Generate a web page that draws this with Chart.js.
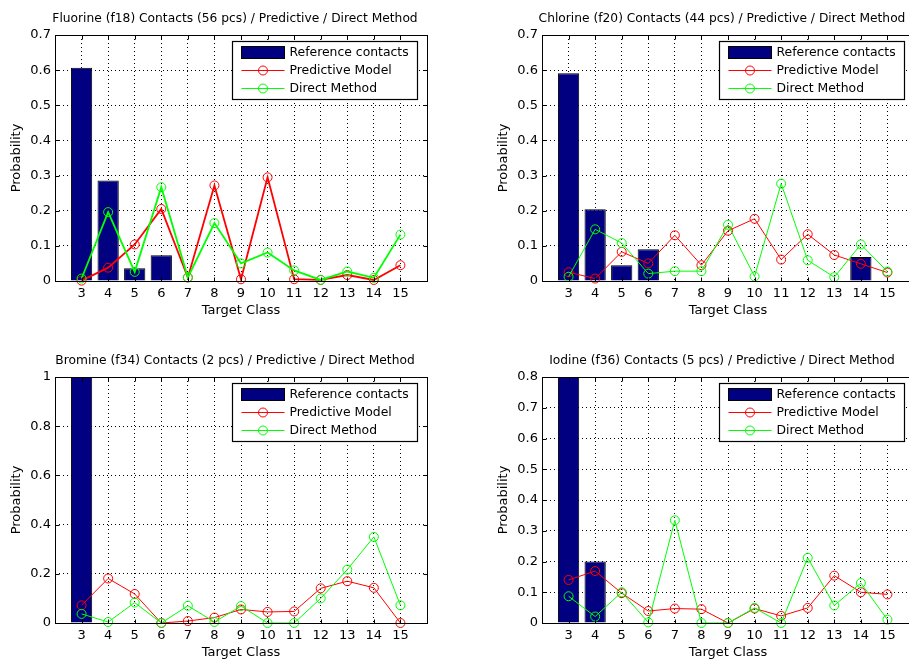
<html>
<head>
<script src="https://cdn.jsdelivr.net/npm/chart.js@4.4.0/dist/chart.umd.min.js"></script>
<style>
  body { margin: 0; width: 909px; height: 659px; overflow: hidden; background: #fff; position: relative; }
  canvas { position: absolute; }
</style>
</head>
<body>
<canvas id="c1" width="440" height="330" style="left:0px;top:0px"></canvas>
<canvas id="c2" width="440" height="330" style="left:487px;top:0px"></canvas>
<canvas id="c3" width="440" height="330" style="left:0px;top:342px"></canvas>
<canvas id="c4" width="440" height="330" style="left:487px;top:342px"></canvas>

<script>
// target classes on the x axis
var classes = [3, 4, 5, 6, 7, 8, 9, 10, 11, 12, 13, 14, 15];
var seriesNames = ['Reference contacts', 'Predictive Model', 'Direct Method'];

// Fluorine (f18)
var fluorineRef    = [0.607, 0.286, 0.036, 0.073, 0, 0, 0, 0, 0, 0, 0, 0, 0];
var fluorinePred   = [0.001, 0.038, 0.104, 0.205, 0.010, 0.272, 0.005, 0.295, 0.005, 0.003, 0.017, 0.003, 0.045];
var fluorineDirect = [0.007, 0.196, 0.026, 0.267, 0.010, 0.165, 0.050, 0.081, 0.030, 0.003, 0.027, 0.009, 0.132];

// Chlorine (f20)
var chlorineRef    = [0.591, 0.204, 0.045, 0.090, 0, 0, 0, 0, 0, 0, 0, 0.068, 0];
var chlorinePred   = [0.025, 0.007, 0.083, 0.050, 0.130, 0.045, 0.143, 0.177, 0.061, 0.133, 0.074, 0.049, 0.024];
var chlorineDirect = [0.012, 0.147, 0.108, 0.021, 0.028, 0.028, 0.160, 0.013, 0.277, 0.059, 0.011, 0.104, 0.027];

// Bromine (f34)
var bromineRef    = [1.0, 0, 0, 0, 0, 0, 0, 0, 0, 0, 0, 0, 0];
var brominePred   = [0.072, 0.181, 0.118, 0.000, 0.008, 0.022, 0.055, 0.045, 0.047, 0.141, 0.170, 0.143, 0.000];
var bromineDirect = [0.037, 0.004, 0.083, 0.000, 0.070, 0.004, 0.069, 0.000, 0.000, 0.100, 0.217, 0.350, 0.072];

// Iodine (f36)
var iodineRef    = [0.8, 0.2, 0, 0, 0, 0, 0, 0, 0, 0, 0, 0, 0];
var iodinePred   = [0.140, 0.169, 0.097, 0.039, 0.047, 0.045, 0.000, 0.047, 0.023, 0.049, 0.154, 0.100, 0.093];
var iodineDirect = [0.087, 0.021, 0.100, 0.002, 0.334, 0.000, 0.000, 0.049, 0.000, 0.212, 0.057, 0.130, 0.011];

var FONT = 'DejaVu Sans';

function pts(vals) {
  return vals.map((v, i) => ({x: classes[i], y: v}));
}

// matlab style box, inside ticks, title and legend
var matlabPlugin = {
  id: 'matlab',
  afterDatasetsDraw(chart) {
    var ctx = chart.ctx, a = chart.chartArea;
    var xs = chart.scales.x, ys = chart.scales.y;
    var L = Math.round(a.left) + 0.5, R = Math.round(a.right) + 0.5;
    var T = Math.round(a.top) + 0.5, B = Math.round(a.bottom) + 0.5;
    ctx.save();
    ctx.strokeStyle = '#000';
    ctx.lineWidth = 1;
    ctx.setLineDash([]);
    ctx.beginPath();
    xs.ticks.forEach(t => {
      if (t.value <= xs.min || t.value >= xs.max) return;
      var px = Math.round(xs.getPixelForValue(t.value)) + 0.5;
      ctx.moveTo(px, B); ctx.lineTo(px, B - 4);
      ctx.moveTo(px, T); ctx.lineTo(px, T + 4);
    });
    ys.ticks.forEach(t => {
      if (t.value <= ys.min || t.value >= ys.max) return;
      var py = Math.round(ys.getPixelForValue(t.value)) + 0.5;
      ctx.moveTo(L, py); ctx.lineTo(L + 4, py);
      ctx.moveTo(R, py); ctx.lineTo(R - 4, py);
    });
    ctx.stroke();
    ctx.strokeRect(L, T, R - L, B - T);

    // title
    ctx.fillStyle = '#000';
    ctx.font = '12.25px ' + FONT;
    ctx.textAlign = 'center';
    ctx.textBaseline = 'middle';
    ctx.fillText(chart.options.plugins.matlab.title, (a.left + a.right) / 2 - 6, a.top - 16);

    // legend box
    var bx = Math.round(a.right) - 195 + 0.5, by = Math.round(a.top) + 6 + 0.5;
    ctx.fillStyle = '#fff';
    ctx.fillRect(bx, by, 185, 58);
    ctx.strokeStyle = '#000';
    ctx.lineWidth = 1.2;
    ctx.strokeRect(bx, by, 185, 58);
    ctx.font = '12.4px ' + FONT;
    var ds = chart.data.datasets;
    ds.forEach((d, i) => {
      var cy = by + 11 + i * 18;
      var sx = bx + 9;
      if (d.type === 'bar') {
        ctx.fillStyle = d.backgroundColor;
        ctx.fillRect(sx, cy - 6, 43, 12);
        ctx.strokeStyle = '#000';
        ctx.lineWidth = 1;
        ctx.strokeRect(sx, cy - 6, 43, 12);
      } else {
        ctx.strokeStyle = d.borderColor;
        ctx.lineWidth = 1;
        ctx.beginPath();
        ctx.moveTo(sx, cy); ctx.lineTo(sx + 43, cy);
        ctx.stroke();
        ctx.beginPath();
        ctx.arc(sx + 21.5, cy, 4.5, 0, Math.PI * 2);
        ctx.stroke();
      }
      ctx.fillStyle = '#000';
      ctx.textAlign = 'left';
      ctx.fillText(d.label, sx + 48, cy + 0.5);
    });
    ctx.restore();
  }
};

function makeChart(id, title, refVals, predVals, directVals, yMax, yStep, lw) {
  var lineCommon = {
    type: 'line',
    borderWidth: lw,
    pointRadius: 4.5,
    pointHoverRadius: 4.5,
    pointBorderWidth: 1,
    pointBackgroundColor: 'rgba(0,0,0,0)',
    tension: 0,
    clip: false
  };
  return new Chart(document.getElementById(id), {
    type: 'bar',
    data: {
      datasets: [
        {
          type: 'bar',
          label: seriesNames[0],
          data: pts(refVals),
          backgroundColor: '#000080',
          borderColor: '#000',
          borderWidth: 1,
          categoryPercentage: 1,
          barPercentage: 0.8,
          order: 3
        },
        Object.assign({}, lineCommon, {
          label: seriesNames[1],
          data: pts(predVals),
          borderColor: '#ff0000',
          pointBorderColor: '#ff0000',
          order: 2
        }),
        Object.assign({}, lineCommon, {
          label: seriesNames[2],
          data: pts(directVals),
          borderColor: '#00ff00',
          pointBorderColor: '#00ff00',
          order: 1
        })
      ]
    },
    options: {
      responsive: false,
      animation: false,
      events: [],
      layout: { padding: { top: 35, left: 0, right: 13, bottom: 0 } },
      plugins: {
        legend: { display: false },
        title: { display: false },
        tooltip: { enabled: false },
        matlab: { title: title }
      },
      scales: {
        x: {
          type: 'linear',
          min: 2,
          max: 16,
          offset: false,
          afterFit: s => { s.height = 49; },
          grid: {
            offset: false,
            drawTicks: false,
            color: ctx => (ctx.tick && ctx.tick.value > 2 && ctx.tick.value < 16) ? '#000' : 'rgba(0,0,0,0)',
            lineWidth: 1
          },
          border: { display: false, dash: [1, 3] },
          ticks: {
            stepSize: 1,
            autoSkip: false,
            maxRotation: 0,
            padding: 5,
            color: '#000',
            font: { family: FONT, size: 13 },
            callback: v => (v > 2 && v < 16) ? String(v) : ''
          },
          title: {
            display: true,
            text: 'Target Class',
            color: '#000',
            font: { family: FONT, size: 13 },
            padding: { top: 0, bottom: 11.2 }
          }
        },
        y: {
          min: 0,
          max: yMax,
          afterFit: s => { s.width = 55; },
          grid: {
            drawTicks: false,
            color: ctx => (ctx.tick && ctx.tick.value > 0 && ctx.tick.value < yMax) ? '#000' : 'rgba(0,0,0,0)',
            lineWidth: 1
          },
          border: { display: false, dash: [1, 3] },
          ticks: {
            stepSize: yStep,
            padding: 4,
            color: '#000',
            font: { family: FONT, size: 13 },
            callback: v => String(+v.toFixed(2))
          },
          title: {
            display: true,
            text: 'Probability',
            color: '#000',
            font: { family: FONT, size: 13 },
            padding: { top: 9.2, bottom: 0 }
          }
        }
      }
    },
    plugins: [matlabPlugin]
  });
}

makeChart('c1', 'Fluorine (f18) Contacts (56 pcs) / Predictive / Direct Method',
  fluorineRef, fluorinePred, fluorineDirect, 0.7, 0.1, 1.8);
makeChart('c2', 'Chlorine (f20) Contacts (44 pcs) / Predictive / Direct Method',
  chlorineRef, chlorinePred, chlorineDirect, 0.7, 0.1, 1);
makeChart('c3', 'Bromine (f34) Contacts (2 pcs) / Predictive / Direct Method',
  bromineRef, brominePred, bromineDirect, 1, 0.2, 1);
makeChart('c4', 'Iodine (f36) Contacts (5 pcs) / Predictive / Direct Method',
  iodineRef, iodinePred, iodineDirect, 0.8, 0.1, 1);
</script>
</body>
</html>
